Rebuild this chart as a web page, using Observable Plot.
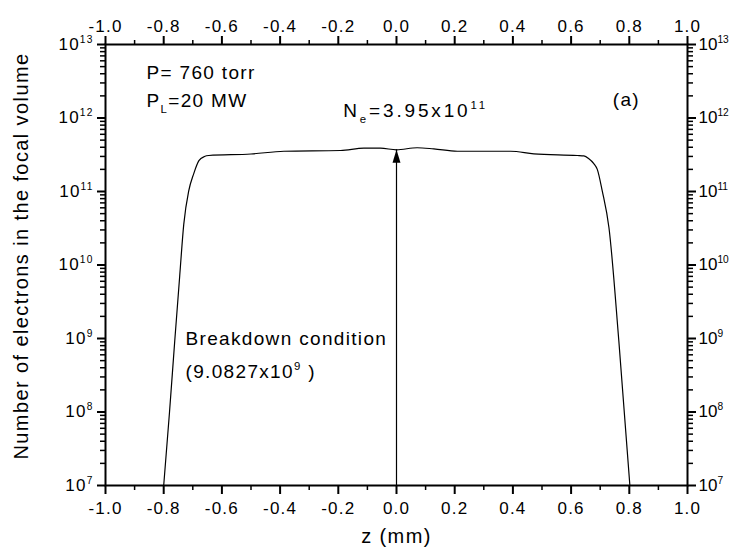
<!DOCTYPE html>
<html>
<head>
<meta charset="utf-8">
<script src="https://cdn.jsdelivr.net/npm/d3@7"></script>
<script src="https://cdn.jsdelivr.net/npm/@observablehq/plot@0.6"></script>
<style>
  html, body { margin: 0; padding: 0; background: white; }
</style>
</head>
<body>
<div id="chart"></div>
<script>
// ---- data ----
const z = [-0.80, -0.78, -0.762, -0.745, -0.731, -0.714, -0.697, -0.679, -0.660, -0.645,
           -0.50, -0.387, -0.192, -0.112, -0.055, 0.0, 0.071, 0.128, 0.209, 0.392,
           0.472, 0.621, 0.644, 0.660, 0.678, 0.690, 0.707, 0.730, 0.764, 0.802];
const electrons = [1.0e7, 1.0e8, 9.3e8, 7.1e9, 3.6e10, 1.02e11, 1.74e11, 2.63e11, 2.99e11, 3.09e11,
                   3.24e11, 3.53e11, 3.61e11, 3.88e11, 3.88e11, 3.69e11, 3.94e11, 3.80e11, 3.53e11, 3.53e11,
                   3.26e11, 3.09e11, 3.05e11, 2.82e11, 2.40e11, 2.0e11, 1.02e11, 3.24e10, 9.3e8, 1.0e7];
const arrowZ = [0];
const arrowBase = 1e7;
const arrowTip = 3.69e11;
const xMajor = [-1.0, -0.8, -0.6, -0.4, -0.2, 0.0, 0.2, 0.4, 0.6, 0.8, 1.0];
const xMinor = [-0.9, -0.7, -0.5, -0.3, -0.1, 0.1, 0.3, 0.5, 0.7, 0.9];
const yMajor = [1e7, 1e8, 1e9, 1e10, 1e11, 1e12, 1e13];
const yMinor = yMajor.slice(0, -1).flatMap(d => [2,3,4,5,6,7,8,9].map(k => k * d));
const xTitle = "z (mm)";
const yTitle = "Number of electrons in the focal volume";
const notePressure = "P= 760 torr";
const notePower = "P_{L}=20 MW";
const notePanel = "(a)";
const notePeak = "N_{e}=3.95x10^{11}";
const noteBreak1 = "Breakdown condition";
const noteBreak2 = "(9.0827x10^{9} )";

const table = z.map((v, i) => ({z: v, n: electrons[i]}));
const supFmt = d => "10^{" + Math.round(Math.log10(d)) + "}";

const arrowHead = {
  draw(ctx) { ctx.moveTo(0, 0); ctx.lineTo(4, 13); ctx.lineTo(-4, 13); ctx.closePath(); }
};

const chart = Plot.plot({
  width: 730, height: 553,
  marginLeft: 105, marginRight: 43, marginTop: 44, marginBottom: 68,
  style: {fontFamily: "'Liberation Sans', Arial, sans-serif", fontSize: "17px", background: "white", color: "black"},
  x: {domain: [-1, 1], label: null},
  y: {type: "log", domain: [1e7, 1e13], label: null},
  marks: [
    Plot.axisX({anchor: "bottom", ticks: xMinor, tickSize: 5, tickFormat: () => "", strokeWidth: 1.5}),
    Plot.axisX({anchor: "bottom", ticks: xMajor, tickSize: 9, tickPadding: 7, tickFormat: d => d.toFixed(1), strokeWidth: 2, fontSize: 17}),
    Plot.axisX({anchor: "top", ticks: xMinor, tickSize: 5, tickFormat: () => "", strokeWidth: 1.5}),
    Plot.axisX({anchor: "top", ticks: xMajor, tickSize: 9, tickPadding: 4, tickFormat: d => d.toFixed(1), strokeWidth: 2, fontSize: 17}),
    Plot.axisY({anchor: "left", ticks: yMinor, tickSize: 5, tickFormat: () => "", strokeWidth: 1.5}),
    Plot.axisY({anchor: "left", ticks: yMajor, tickSize: 8, tickPadding: 4, tickFormat: supFmt, strokeWidth: 2, fontSize: 17}),
    Plot.axisY({anchor: "right", ticks: yMinor, tickSize: 5, tickFormat: () => "", strokeWidth: 1.5}),
    Plot.axisY({anchor: "right", ticks: yMajor, tickSize: 8, tickPadding: 3, tickFormat: supFmt, strokeWidth: 2, fontSize: 17}),
    Plot.frame({strokeWidth: 2}),
    Plot.line(table, {x: "z", y: "n", curve: "monotone-x", stroke: "black", strokeWidth: 1.2}),
    Plot.ruleX(arrowZ, {y1: arrowBase, y2: arrowTip, stroke: "black", strokeWidth: 1.2}),
    Plot.dot(arrowZ, {x: d => d, y: () => arrowTip, symbol: arrowHead, r: 5, fill: "black", stroke: "none"}),
    Plot.text([notePressure], {x: -0.859, y: 10 ** 12.62, textAnchor: "start", fontSize: 19}),
    Plot.text([notePower], {x: -0.859, y: 10 ** 12.23, textAnchor: "start", fontSize: 19}),
    Plot.text([notePanel], {x: 0.79, y: 10 ** 12.24, fontSize: 19}),
    Plot.text([notePeak], {x: -0.183, y: 10 ** 12.09, textAnchor: "start", fontSize: 19}),
    Plot.text([noteBreak1], {x: -0.725, y: 10 ** 9.0, textAnchor: "start", fontSize: 19}),
    Plot.text([noteBreak2], {x: -0.725, y: 10 ** 8.55, textAnchor: "start", fontSize: 19}),
    Plot.text([xTitle], {frameAnchor: "bottom", dy: 57, fontSize: 20}),
    Plot.text([yTitle], {frameAnchor: "left", textAnchor: "middle", rotate: -90, dx: -84, dy: -9, fontSize: 20})
  ]
});

document.getElementById("chart").appendChild(chart);

// render ^{..} and _{..} as real superscript / subscript tspans, and widen glyph spacing
const svgNS = "http://www.w3.org/2000/svg";
function richify(el) {
  const s = el.textContent;
  const fs = parseFloat(getComputedStyle(el).fontSize) || 17;
  const onRight = el.getBoundingClientRect().left > 690;
  const spacing = onRight ? 0 : (s === notePeak ? 0.15 : 0.07) * fs;
  el.style.letterSpacing = spacing.toFixed(2) + "px";
  if (!/[\^_]\{/.test(s)) return;
  el.textContent = "";
  const re = /([\^_])\{([^}]*)\}/g;
  let last = 0, shift = 0, m;
  const add = (str, kind) => {
    if (!str) return;
    const t = document.createElementNS(svgNS, "tspan");
    const target = kind === "^" ? -0.42 * fs : kind === "_" ? 0.3 * fs : 0;
    const dy = target - shift;
    shift = target;
    if (dy) t.setAttribute("dy", dy);
    if (kind) t.setAttribute("font-size", (0.6 * fs).toFixed(1));
    t.textContent = str;
    el.appendChild(t);
  };
  while ((m = re.exec(s))) {
    add(s.slice(last, m.index), null);
    add(m[2], m[1]);
    last = re.lastIndex;
  }
  add(s.slice(last), null);
}
chart.querySelectorAll("text").forEach(richify);
</script>
</body>
</html>
